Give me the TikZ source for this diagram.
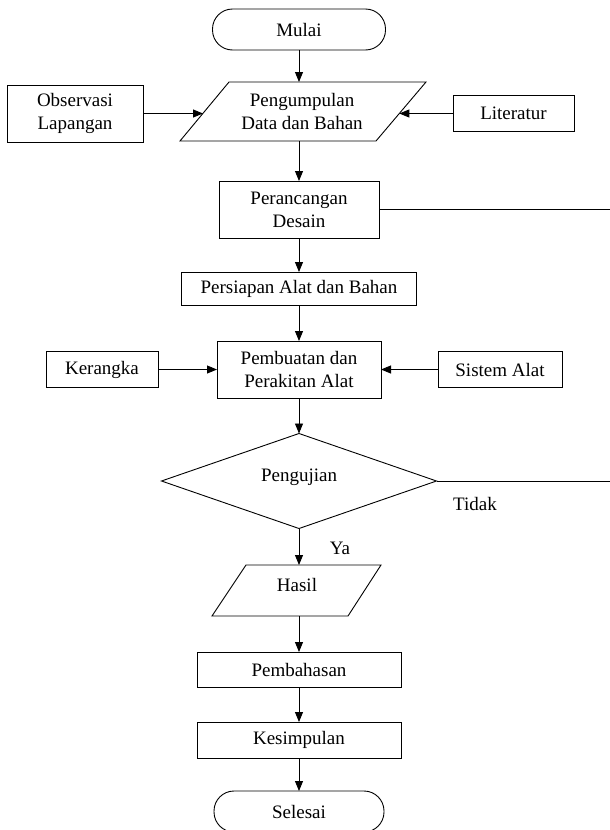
\documentclass[tikz,border=0pt]{standalone}
\usepackage{fontspec}
\setmainfont{Liberation Serif}
\usetikzlibrary{arrows.meta,shapes.geometric}
\begin{document}
\begin{tikzpicture}[x=1pt,y=-1pt,line width=0.9pt,
  every node/.style={font=\fontsize{19}{23}\selectfont,inner sep=0pt,outer sep=0pt,align=center},
  box/.style={draw,rectangle},
  term/.style={draw,rectangle,rounded corners=20pt},
  decision/.style={draw,diamond,aspect=2.9},
  plain/.style={draw=none},
  arr/.style={-{Triangle[length=10pt,width=8pt]}}]
\useasboundingbox (0,0) rectangle (610,830);
\clip (0,0) rectangle (610,830);

% terminals and process boxes
\node[term,minimum width=173pt,minimum height=41pt] (mulai) at (299,29.5) {Mulai};
\node[plain] (pg) at (302,111) {Pengumpulan\\Data dan Bahan};
\draw (229,82) -- (426,82) -- (376,141) -- (180,141) -- cycle;
\coordinate (pgT) at (299,82);
\coordinate (pgB) at (299,141);
\coordinate (pgL) at (203,113.5);
\coordinate (pgR) at (399.3,113.5);
\node[box,minimum width=136pt,minimum height=57pt] (obs) at (75,113.5) {Observasi\\Lapangan};
\node[box,minimum width=121pt,minimum height=36pt] (lit) at (513.5,113.5) {Literatur};

\node[box,minimum width=160pt,minimum height=57pt] (per) at (299,209.5) {Perancangan\\Desain};
\coordinate (perR) at (612,209.5);
\node[box,minimum width=235pt,minimum height=33pt] (prs) at (299,288.5) {Persiapan Alat dan Bahan};
\node[box,minimum width=164pt,minimum height=57pt] (pem) at (299,369.5) {Pembuatan dan\\Perakitan Alat};
\node[box,minimum width=112pt,minimum height=36pt] (ker) at (102,369.5) {Kerangka};
\node[box,minimum width=124pt,minimum height=36pt] (sis) at (500,369.5) {Sistem Alat};

\node[decision,minimum width=275pt,minimum height=95pt] (dia) at (299,481) {\raisebox{12pt}{Pengujian}};
\coordinate (diaT) at (299,433.5);
\coordinate (diaR) at (612,481);
\node[plain] (tidak) at (475,504) {Tidak};
\node[plain] (ya) at (340,548) {Ya};

\node[plain] (hasil) at (297,585) {Hasil};
\draw (246,565) -- (381,565) -- (348,616) -- (212,616) -- cycle;
\coordinate (hsT) at (299,565);
\coordinate (hsB) at (299,616);

\node[box,minimum width=204pt,minimum height=35pt] (pmb) at (299,669.5) {Pembahasan};
\node[box,minimum width=204pt,minimum height=36pt] (ksm) at (299,740) {Kesimpulan};
\node[term,minimum width=170pt,minimum height=41pt] (sls) at (299,811.5) {Selesai};

% connectors
\draw[arr] (mulai.south) -- (pgT);
\draw[arr] (obs.east) -- (pgL);
\draw[arr] (lit.west) -- (pgR);
\draw[arr] (pgB) -- (per.north);
\draw (per.east) -- (perR);
\draw[arr] (per.south) -- (prs.north);
\draw[arr] (prs.south) -- (pem.north);
\draw[arr] (ker.east) -- (pem.west);
\draw[arr] (sis.west) -- (pem.east);
\draw[arr] (pem.south) -- (diaT);
\draw (dia.east) -- (diaR);
\draw[arr] (dia.south) -- (hsT);
\draw[arr] (hsB) -- (pmb.north);
\draw[arr] (pmb.south) -- (ksm.north);
\draw[arr] (ksm.south) -- (sls.north);
\end{tikzpicture}
\end{document}
